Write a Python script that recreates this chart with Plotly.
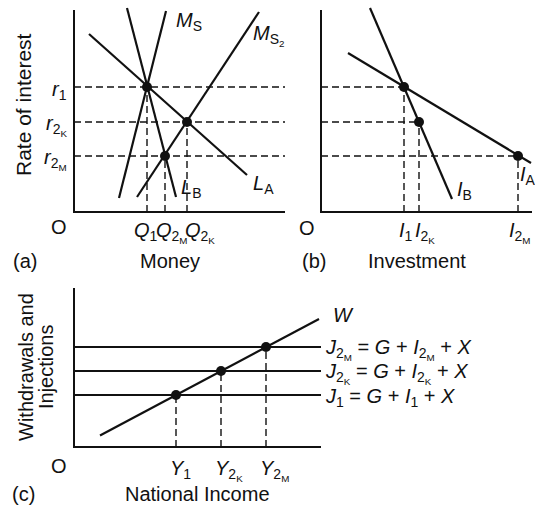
import plotly.graph_objects as go

# ---------------- data ----------------
# Panel (a): money market
r_levels = [12.5, 9.0, 5.6]                 # r1, r2K, r2M
r_labels = ["<i>r</i><sub>1</sub>",
            "<i>r</i><sub>2<sub>K</sub></sub>",
            "<i>r</i><sub>2<sub>M</sub></sub>"]
q_values = [7.3, 9.1, 11.3]                 # Q1, Q2M, Q2K
q_rates = [12.5, 5.6, 9.0]
q_labels = ["<i>Q</i><sub>1</sub>",
            "<i>Q</i><sub>2<sub>M</sub></sub>",
            "<i>Q</i><sub>2<sub>K</sub></sub>"]
ms_x, ms_y = [4.5, 9.2], [1.4, 20.1]
ms2_x, ms2_y = [6.3, 18.5], [1.5, 20.0]
lb_x, lb_y = [5.3, 10.2], [20.4, 1.5]
la_x, la_y = [1.5, 17.3], [17.8, 3.7]
money_axis = [21.1, 20.2]                   # x-axis length, y-axis height

# Panel (b): investment
i_values = [8.3, 9.8, 19.7]                 # I1, I2K, I2M
i_rates = [12.5, 9.0, 5.6]
i_labels = ["<i>I</i><sub>1</sub>",
            "<i>I</i><sub>2<sub>K</sub></sub>",
            "<i>I</i><sub>2<sub>M</sub></sub>"]
ib_x, ib_y = [4.9, 13.1], [20.4, 1.3]
ia_x, ia_y = [2.7, 21.0], [15.9, 4.9]
inv_axis = [21.1, 20.2]

# Panel (c): national income
j_levels = [5.2, 7.6, 10.0]                 # J1, J2K, J2M
j_labels = ["<i>J</i><sub>1</sub> = <i>G</i> + <i>I</i><sub>1</sub> + <i>X</i>",
            "<i>J</i><sub>2<sub>K</sub></sub> = <i>G</i> + <i>I</i><sub>2<sub>K</sub></sub> + <i>X</i>",
            "<i>J</i><sub>2<sub>M</sub></sub> = <i>G</i> + <i>I</i><sub>2<sub>M</sub></sub> + <i>X</i>"]
y_values = [10.2, 14.7, 19.2]               # Y1, Y2K, Y2M
y_labels = ["<i>Y</i><sub>1</sub>",
            "<i>Y</i><sub>2<sub>K</sub></sub>",
            "<i>Y</i><sub>2<sub>M</sub></sub>"]
w_x, w_y = [2.6, 24.5], [1.15, 12.8]
inc_axis = [24.7, 15.9]

# ---------------- layout helpers ----------------
W, H = 535, 505
SCALE = 10.0
FONT = "Liberation Sans, Arial, Helvetica, sans-serif"
FS = 20
BLACK = "#111111"


def xdom(ox, lo, hi):
    return [(ox + SCALE * lo) / W, (ox + SCALE * hi) / W]


def ydom(oy, lo, hi):
    return [(H - oy + SCALE * lo) / H, (H - oy + SCALE * hi) / H]


fig = go.Figure()


def line(xs, ys, ax, width=2.2, dash=None):
    fig.add_trace(go.Scatter(
        x=xs, y=ys, mode="lines", xaxis="x" + ax, yaxis="y" + ax,
        line=dict(color=BLACK, width=width, dash=dash),
        hoverinfo="skip", showlegend=False))


def dots(xs, ys, ax):
    fig.add_trace(go.Scatter(
        x=xs, y=ys, mode="markers", xaxis="x" + ax, yaxis="y" + ax,
        marker=dict(color=BLACK, size=10), hoverinfo="skip", showlegend=False))


DASH = "7px,4px"
DW = 1.4

# ---- panel (a)
A = ""
for r in r_levels:
    line([0, money_axis[0]], [r, r], A, DW, DASH)
for q, r in zip(q_values, q_rates):
    line([q, q], [0, r], A, DW, DASH)
line(ms_x, ms_y, A)
line(ms2_x, ms2_y, A)
line(lb_x, lb_y, A)
line(la_x, la_y, A)
line([0, 0, money_axis[0]], [money_axis[1], 0, 0], A, 2)
dots(q_values, q_rates, A)

# ---- panel (b)
B = "2"
for i, r in zip(i_values, i_rates):
    line([0, i], [r, r], B, DW, DASH)
    line([i, i], [0, r], B, DW, DASH)
line(ib_x, ib_y, B)
line(ia_x, ia_y, B)
line([0, 0, inv_axis[0]], [inv_axis[1], 0, 0], B, 2)
dots(i_values, i_rates, B)

# ---- panel (c)
C = "3"
for j in j_levels:
    line([0, inc_axis[0]], [j, j], C, 2.2)
for yv, j in zip(y_values, j_levels):
    line([yv, yv], [0, j], C, DW, DASH)
line(w_x, w_y, C)
line([0, 0, inc_axis[0]], [inc_axis[1], 0, 0], C, 2)
dots(y_values, j_levels, C)

# ---------------- annotations ----------------
ann = []


def text(t, x, y, ax, xanchor="left", yanchor="middle", xs=0, ys=0, size=FS):
    ann.append(dict(text=t, x=x, y=y, xref="x" + ax, yref="y" + ax,
                    xanchor=xanchor, yanchor=yanchor, xshift=xs, yshift=ys,
                    borderpad=0, showarrow=False,
                    font=dict(family=FONT, size=size, color=BLACK)))


# axis letters "O"
text("O", 0, 0, A, "center", "middle", -15, -15)
text("O", 0, 0, B, "center", "middle", -14, -16)
text("O", 0, 0, C, "center", "middle", -15, -19)

# panel (a) tick-like labels
for r, t in zip(r_levels, r_labels):
    text(t, 0, r, A, "right", "middle", -6, -3)
for q, t, s in zip(q_values, q_labels, [-14, -10, -3]):
    text(t, q, 0, A, "left", "top", s, -6)
# panel (b)
for iv, t, s in zip(i_values, i_labels, [-6, -5, -10]):
    text(t, iv, 0, B, "left", "top", s, -6)
# panel (c)
for yv, t in zip(y_values, y_labels):
    text(t, yv, 0, C, "left", "top", -7, -9)
for j, t in zip(j_levels, j_labels):
    text(t, inc_axis[0], j, C, "left", "middle", 3, -2)

# curve labels
text("<i>M</i><sub>S</sub>", ms_x[1], ms_y[1], A, "left", "middle", 9, -10)
text("<i>M</i><sub>S<sub>2</sub></sub>", ms2_x[1], ms2_y[1], A, "left", "middle", -7, -23)
text("<i>L</i><sub>B</sub>", lb_x[1], lb_y[1], A, "left", "middle", 4, 9)
text("<i>L</i><sub>A</sub>", la_x[1], la_y[1], A, "left", "middle", 5, -9)
text("<i>I</i><sub>B</sub>", ib_x[1], ib_y[1], B, "left", "middle", 4, 9)
text("<i>I</i><sub>A</sub>", ia_x[1], ia_y[1], B, "left", "middle", -12, -12)
text("<i>W</i>", w_x[1], w_y[1], C, "left", "middle", 13, 4)


# titles (paper coordinates)
def ptext(t, px, py, angle=0, size=FS):
    ann.append(dict(text=t, x=px / W, y=1 - py / H, xref="paper", yref="paper",
                    xanchor="center", yanchor="middle", showarrow=False,
                    borderpad=0, textangle=angle,
                    font=dict(family=FONT, size=size, color=BLACK)))


ptext("Rate of interest", 24, 105, -90, 21)
ptext("Withdrawals and", 26, 367, -90)
ptext("Injections", 46, 367, -90)
ptext("(a)", 25, 261)
ptext("Money", 170, 261)
ptext("(b)", 314, 261)
ptext("Investment", 417, 261)
ptext("(c)", 24, 494)
ptext("National Income", 197, 494)

hidden = dict(visible=False, showgrid=False, zeroline=False, fixedrange=True)

fig.update_layout(
    width=W, height=H,
    margin=dict(l=0, r=0, t=0, b=0),
    paper_bgcolor="white", plot_bgcolor="rgba(0,0,0,0)",
    showlegend=False,
    annotations=ann,
    xaxis=dict(hidden, domain=xdom(74, -0.4, 21.6), range=[-0.4, 21.6], anchor="y"),
    yaxis=dict(hidden, domain=ydom(212, -0.4, 20.7), range=[-0.4, 20.7], anchor="x"),
    xaxis2=dict(hidden, domain=xdom(321, -0.4, 21.3), range=[-0.4, 21.3], anchor="y2"),
    yaxis2=dict(hidden, domain=ydom(212, -0.4, 20.7), range=[-0.4, 20.7], anchor="x2"),
    xaxis3=dict(hidden, domain=xdom(74, -0.4, 25.6), range=[-0.4, 25.6], anchor="y3"),
    yaxis3=dict(hidden, domain=ydom(447, -0.4, 16.5), range=[-0.4, 16.5], anchor="x3"),
)

fig.write_html("out.html", config={"displayModeBar": False},
               post_script="document.body.style.margin='0';document.body.style.overflow='hidden';")
